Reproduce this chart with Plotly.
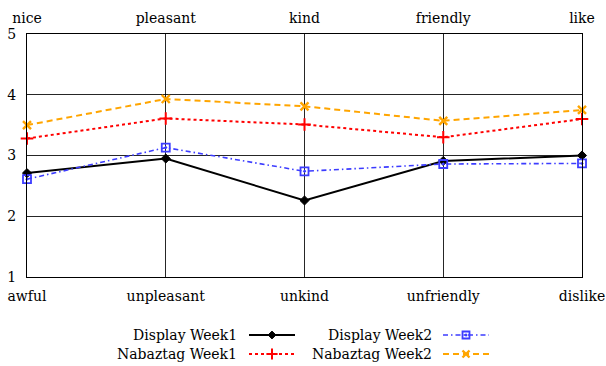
import plotly.graph_objects as go

top_labels = ["nice", "pleasant", "kind", "friendly", "like"]
bottom_labels = ["awful", "unpleasant", "unkind", "unfriendly", "dislike"]
y_ticks = [1, 2, 3, 4, 5]

display_week1 = [2.71, 2.95, 2.26, 2.91, 3.00]
display_week2 = [2.61, 3.13, 2.74, 2.86, 2.87]
nabaztag_week1 = [3.28, 3.61, 3.51, 3.30, 3.60]
nabaztag_week2 = [3.50, 3.93, 3.81, 3.57, 3.75]

series_names = ["Display Week1", "Display Week2", "Nabaztag Week1", "Nabaztag Week2"]
series_values = [display_week1, display_week2, nabaztag_week1, nabaztag_week2]

styles = [
    dict(color="black", dash="solid", width=2, symbol="diamond", msize=7, mlw=1),
    dict(color="#3c3cff", dash="5px,3px,1.5px,3px", width=1.6, symbol="square-open-dot", msize=8, mlw=1.8),
    dict(color="#ff0000", dash="3px,3px", width=2, symbol="cross-thin", msize=9, mlw=2),
    dict(color="#ffa500", dash="6px,4px", width=2, symbol="x-thin", msize=8, mlw=2.4),
]

FONT = "'DejaVu Serif', serif"
FS = 14
W, H = 606, 366
ML, MR, MT, MB = 27, 24, 34, 5
plot_h = H - MT - MB
main_bottom = (H - MB - 277) / plot_h

fig = go.Figure()
xs = list(range(len(top_labels)))
for name, vals, st in zip(series_names, series_values, styles):
    fig.add_trace(go.Scatter(
        x=xs, y=vals, mode="lines+markers", name=name, showlegend=False,
        line=dict(color=st["color"], dash=st["dash"], width=st["width"]),
        marker=dict(symbol=st["symbol"], size=st["msize"], color=st["color"],
                    line=dict(color=st["color"], width=st["mlw"])),
        xaxis="x", yaxis="y", cliponaxis=False,
    ))

# legend drawn on a hidden helper axis (pixel-like units)
leg_rows = [361 - 335, 361 - 335, 361 - 354, 361 - 354]
leg_cols = [(249, 272, 295), (443, 466, 489), (249, 272, 295), (443, 466, 489)]
leg_text_right = [238, 433, 238, 433]
for name, st, ry, (x0, xm, x1), tr in zip(series_names, styles, leg_rows, leg_cols, leg_text_right):
    fig.add_trace(go.Scatter(
        x=[x0, xm, x1], y=[ry, ry, ry], mode="lines", showlegend=False,
        line=dict(color=st["color"], dash=st["dash"], width=st["width"]),
        xaxis="x3", yaxis="y3", hoverinfo="skip", cliponaxis=False,
    ))
    fig.add_trace(go.Scatter(
        x=[xm], y=[ry], mode="markers", showlegend=False,
        marker=dict(symbol=st["symbol"], size=st["msize"] - 1, color=st["color"],
                    line=dict(color=st["color"], width=st["mlw"])),
        xaxis="x3", yaxis="y3", hoverinfo="skip", cliponaxis=False,
    ))
    fig.add_annotation(x=tr + 1, y=ry, xref="x3", yref="y3", text=name, showarrow=False,
                       xanchor="right", yanchor="middle",
                       font=dict(family=FONT, size=FS, color="black"))

grid = dict(showgrid=True, gridcolor="rgba(0,0,0,0.85)", gridwidth=1)
fig.update_layout(
    width=W, height=H,
    margin=dict(l=ML, r=MR, t=MT, b=MB, autoexpand=False),
    paper_bgcolor="white", plot_bgcolor="white",
    font=dict(family=FONT, size=FS, color="black"),
    xaxis=dict(domain=[0, 1], range=[0, 4], tickvals=xs, ticktext=bottom_labels,
               anchor="y", zeroline=False, ticks="", ticklabelstandoff=6, automargin=False,
               ticklabeloverflow="allow",
               showline=True, linecolor="black", linewidth=1.3, mirror=True, **grid),
    xaxis2=dict(overlaying="x", side="top", range=[0, 4], tickvals=xs, ticktext=top_labels,
                anchor="y", showgrid=False, zeroline=False, ticks="", ticklabelstandoff=7,
                automargin=False, ticklabeloverflow="allow"),
    yaxis=dict(domain=[main_bottom, 1], range=[1, 5], tickvals=y_ticks, anchor="x",
               zeroline=False, ticks="", ticklabelstandoff=7, automargin=False,
               ticklabeloverflow="allow",
               showline=True, linecolor="black", linewidth=1.3, mirror=True, **grid),
    xaxis3=dict(domain=[0, 1], range=[ML, W - MR], visible=False, anchor="y3", automargin=False),
    yaxis3=dict(domain=[0, main_bottom], range=[0, H - MB - 277], visible=False, anchor="x3",
                automargin=False),
)
# dummy trace for xaxis2 so its ticks render
fig.add_trace(go.Scatter(x=[0, 4], y=[None, None], xaxis="x2", yaxis="y", showlegend=False, hoverinfo="skip"))

fig.write_html("out.html", config={"displayModeBar": False},
               post_script="document.body.style.margin='0';")
